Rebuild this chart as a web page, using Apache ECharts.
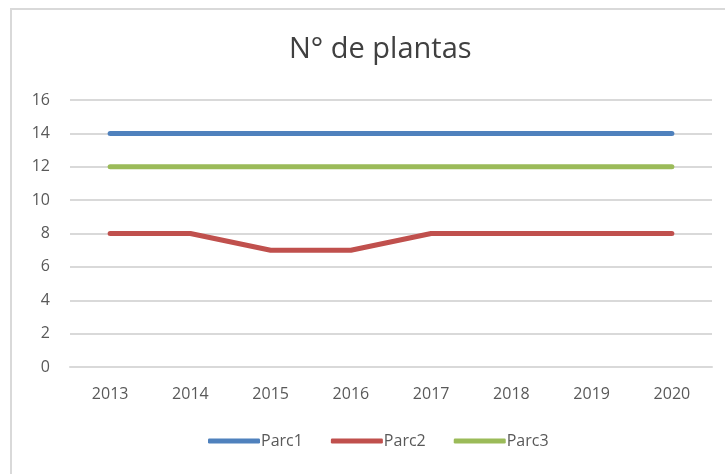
<!DOCTYPE html>
<html>
<head>
<meta charset="utf-8">
<script src="https://cdn.jsdelivr.net/npm/echarts@6/dist/echarts.min.js"></script>
<style>
  html, body { margin: 0; padding: 0; background: #fff; }
  #chart { width: 725px; height: 474px; }
</style>
</head>
<body>
<div id="chart"></div>
<script>
var years = ['2013', '2014', '2015', '2016', '2017', '2018', '2019', '2020'];
var parc1 = [14, 14, 14, 14, 14, 14, 14, 14];
var parc2 = [8, 8, 7, 7, 8, 8, 8, 8];
var parc3 = [12, 12, 12, 12, 12, 12, 12, 12];

var chart = echarts.init(document.getElementById('chart'));
var font = 'Open Sans, Noto Sans, sans-serif';

function lineSeries(name, data, color) {
    return {
        name: name,
        type: 'line',
        data: data,
        symbol: 'none',
        z: 3,
        itemStyle: { color: color },
        lineStyle: { width: 5, color: color, cap: 'round', join: 'round' }
    };
}

chart.setOption({
    animation: false,
    graphic: [{
        type: 'rect',
        shape: { x: 11, y: 9, width: 800, height: 600 },
        style: { fill: 'none', stroke: '#d9d9d9', lineWidth: 2 },
        silent: true
    }],
    title: {
        text: 'N° de plantas',
        left: 284,
        top: 30,
        textStyle: { fontFamily: font, fontSize: 29, fontWeight: 'normal', color: '#404040' }
    },
    legend: {
        bottom: 20,
        left: 203,
        itemWidth: 52,
        itemHeight: 5,
        itemGap: 28,
        icon: 'roundRect',
        textStyle: { fontFamily: font, fontSize: 16, color: '#595959', padding: [0, 0, 0, -4] },
        data: ['Parc1', 'Parc2', 'Parc3']
    },
    grid: { left: 70, right: 13, top: 100, bottom: 107 },
    xAxis: {
        type: 'category',
        data: years,
        boundaryGap: true,
        axisLine: { lineStyle: { color: '#d9d9d9', width: 2 } },
        axisTick: { show: false },
        axisLabel: { fontFamily: font, fontSize: 16, color: '#595959', margin: 19 }
    },
    yAxis: {
        type: 'value',
        min: 0,
        max: 16,
        interval: 2,
        axisLine: { show: false },
        axisTick: { show: false },
        splitLine: { lineStyle: { color: '#d9d9d9', width: 2 } },
        axisLabel: { fontFamily: font, fontSize: 16, color: '#595959', margin: 20, align: 'right' }
    },
    series: [
        lineSeries('Parc1', parc1, '#4f81bd'),
        lineSeries('Parc2', parc2, '#c0504d'),
        lineSeries('Parc3', parc3, '#9bbb59')
    ]
});
</script>
</body>
</html>
